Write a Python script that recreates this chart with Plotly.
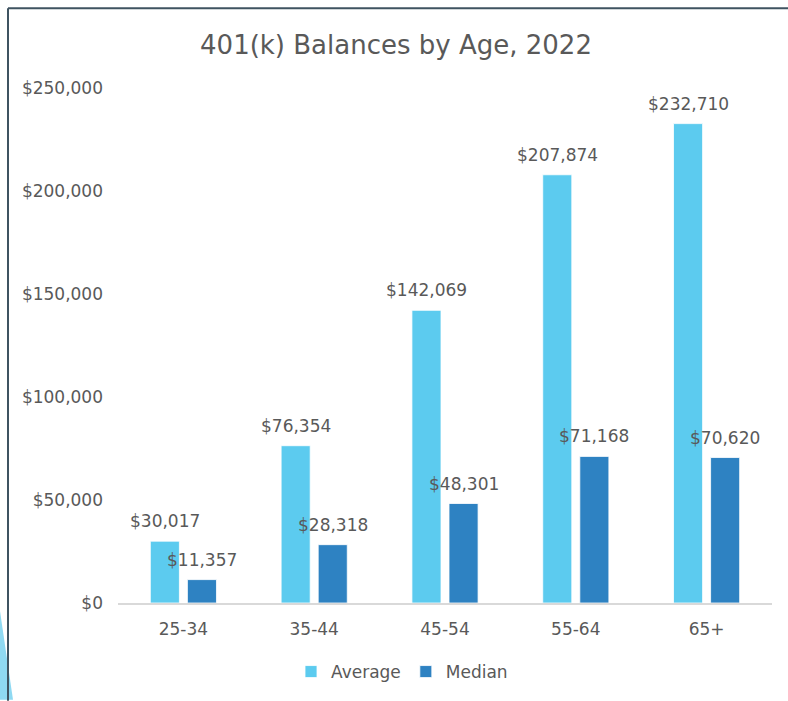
import plotly.graph_objects as go

categories = ["25-34", "35-44", "45-54", "55-64", "65+"]
average = [30017, 76354, 142069, 207874, 232710]
median = [11357, 28318, 48301, 71168, 70620]
y_ticks = [0, 50000, 100000, 150000, 200000, 250000]
y_tick_labels = ["$0", "$50,000", "$100,000", "$150,000", "$200,000", "$250,000"]

W, H = 788, 701
L, R, T, B = 118, 16, 88, 97
pw, ph = W - L - R, H - T - B
BARGAP, GROUPGAP = 0.433, 0.216

def px_x(x):
    return (x - L) / pw

def px_y(y):
    return (H - B - y) / ph

FONT = "DejaVu Sans"
TXT = "#595959"

fig = go.Figure()
fig.add_trace(go.Bar(
    x=categories, y=average, name="Average",
    marker=dict(color="#5ccbef", line=dict(color="white", width=0.8)),
))
fig.add_trace(go.Bar(
    x=categories, y=median, name="Median",
    marker=dict(color="#2e82c2", line=dict(color="white", width=0.8)),
))

# data labels as annotations, offset to each bar's slot
cat_px = pw / len(categories)
slot_half = cat_px * (1 - BARGAP) / 4
annotations = []
for series, sign in ((average, -1), (median, 1)):
    for c, v in zip(categories, series):
        annotations.append(dict(
            x=c, y=v, xref="x", yref="y", text=f"${v:,}", showarrow=False,
            xanchor="center", yanchor="bottom", xshift=sign * slot_half, yshift=8,
            font=dict(family=FONT, size=17, color=TXT)))

shapes = [
    dict(type="path", xref="paper", yref="paper",
         path=f"M {px_x(0)},{px_y(612)} L {px_x(13)},{px_y(701)} L {px_x(0)},{px_y(701)} Z",
         fillcolor="#8fd9f2", line=dict(width=0), layer="above"),
    dict(type="line", xref="paper", yref="paper",
         x0=px_x(8), x1=px_x(8), y0=px_y(8), y1=px_y(702),
         line=dict(color="#3f5361", width=2), layer="above"),
    dict(type="line", xref="paper", yref="paper",
         x0=px_x(8), x1=px_x(790), y0=px_y(8), y1=px_y(8),
         line=dict(color="#3f5361", width=2), layer="above"),
]

fig.update_layout(
    width=W, height=H,
    margin=dict(l=L, r=R, t=T, b=B),
    paper_bgcolor="white", plot_bgcolor="white",
    barmode="group", bargap=BARGAP, bargroupgap=GROUPGAP,
    font=dict(family=FONT, size=17, color=TXT),
    title=dict(text="401(k) Balances by Age, 2022", x=396 / W, xanchor="center",
               y=1 - 45 / H, yanchor="middle", yref="container",
               font=dict(family=FONT, size=26, color=TXT)),
    legend=dict(orientation="h", x=px_x(402), xanchor="center",
                y=px_y(672), yanchor="middle",
                font=dict(family=FONT, size=17, color=TXT),
                bgcolor="rgba(0,0,0,0)"),
    shapes=shapes,
    annotations=annotations,
    showlegend=True,
)
fig.update_xaxes(showline=True, linecolor="#d9d9d9", linewidth=2, showgrid=False,
                 ticks="", ticklabelstandoff=10,
                 tickfont=dict(family=FONT, size=17, color=TXT))
fig.update_yaxes(range=[0, 250000], tickvals=y_ticks, ticktext=y_tick_labels,
                 showgrid=False, zeroline=False, showline=False, ticks="",
                 ticklabelstandoff=14,
                 tickfont=dict(family=FONT, size=17, color=TXT))

fig.write_html("out.html")
